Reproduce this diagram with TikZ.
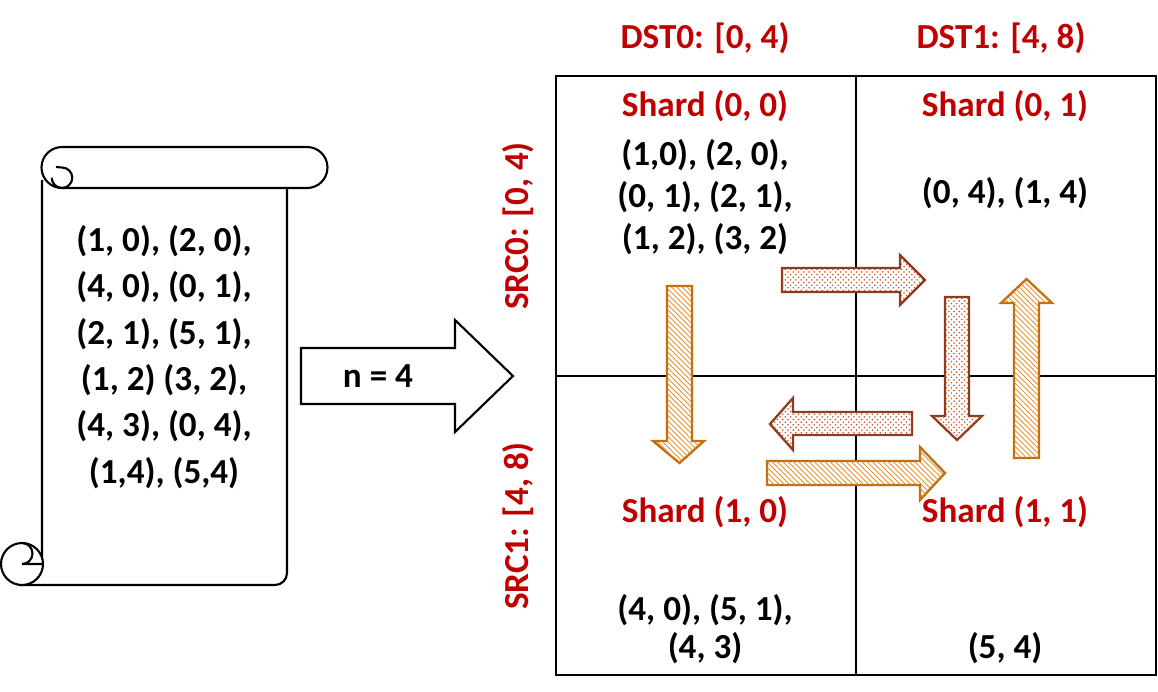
\documentclass[tikz,border=0pt]{standalone}
\usepackage{fontspec}
\setmainfont{Carlito}
\usetikzlibrary{patterns}
\definecolor{darkred}{RGB}{192,0,0}
\definecolor{orline}{RGB}{190,110,10}
\definecolor{orfill}{RGB}{235,130,20}
\definecolor{brline}{RGB}{140,60,30}
\definecolor{brfill}{RGB}{195,85,45}
\tikzset{
  txt/.style={font=\bfseries\fontsize{20}{26}\selectfont, align=center, inner sep=0pt},
  red/.style={txt, text=darkred},
  hatch/.style={draw=orline, line width=1.3pt, postaction={pattern=north west lines, pattern color=orfill}},
  dotty/.style={draw=brline, line width=1.3pt, postaction={pattern=crosshatch dots, pattern color=brfill}},
  line/.style={line width=1.2pt}
}
\begin{document}
\begin{tikzpicture}[x=0.02cm,y=-0.02cm]
\useasboundingbox (0,0) rectangle (1158,691);
% scroll
\draw[line, fill=white] (42,180) -- (42,564) -- (22,585) -- (275,585) arc[start angle=90,end angle=0,radius=12] -- (287,188);
\draw[line, fill=white] (62,147) -- (307,147) arc[start angle=-90,end angle=90,radius=20.5] -- (62,188) arc[start angle=90,end angle=270,radius=20.5];
\draw[line] (62,188) arc[start angle=90,end angle=-90,radius=10.25] -- (56,167);
\draw[line] (62,188) arc[start angle=90,end angle=180,radius=10.25];
\draw[line, fill=white] (22,564) circle[radius=21];
\draw[line] (22,543) arc[start angle=-90,end angle=90,radius=10.5] -- (42,564);
\node[txt, font=\bfseries\fontsize{20}{26.4}\selectfont] (scroll) at (164,357) {(1, 0), (2, 0),\\(4, 0), (0, 1),\\(2, 1), (5, 1),\\(1, 2) (3, 2),\\(4, 3), (0, 4),\\(1,4), (5,4)};
% big arrow
\draw[line] (301,348) -- (455,348) -- (455,320) -- (513,376) -- (455,432) -- (455,404) -- (301,404) -- cycle;
\node[txt] (n) at (378,376) {n = 4};
% grid
\draw[line] (556,76) rectangle (1156,675);
\draw[line] (856,76) -- (856,675);
\draw[line] (556,376) -- (1156,376);
\node[red] (d0) at (705,38) {DST0: [0, 4)};
\node[red] (d1) at (1001,38) {DST1: [4, 8)};
\node[red, rotate=90] (s0) at (518,226) {SRC0: [0, 4)};
\node[red, rotate=90] (s1) at (518,526) {SRC1: [4, 8)};
\node[red] (h00) at (705,106) {Shard (0, 0)};
\node[red] (h01) at (1005,106) {Shard (0, 1)};
\node[red] (h10) at (705,512) {Shard (1, 0)};
\node[red] (h11) at (1005,512) {Shard (1, 1)};
\node[txt, font=\bfseries\fontsize{20}{24}\selectfont] (c00) at (705,197) {(1,0), (2, 0),\\(0, 1), (2, 1),\\(1, 2), (3, 2)};
\node[txt] (c01) at (1005,193) {(0, 4), (1, 4)};
\node[txt, font=\bfseries\fontsize{20}{21.5}\selectfont] (c10) at (705,629) {(4, 0), (5, 1),\\(4, 3)};
\node[txt] (c11) at (1005,648) {(5, 4)};
% block arrows
\draw[hatch, fill=white] (667,286) -- (692,286) -- (692,441) -- (704,441) -- (679.5,463) -- (653,441) -- (667,441) -- cycle;
\draw[dotty, fill=white] (782,268) -- (900,268) -- (900,255) -- (925,280) -- (900,305) -- (900,292) -- (782,292) -- cycle;
\draw[dotty, fill=white] (945,297) -- (969,297) -- (969,416) -- (982,416) -- (957,440) -- (932,416) -- (945,416) -- cycle;
\draw[hatch, fill=white] (1014,458) -- (1039,458) -- (1039,303) -- (1052,303) -- (1026.5,279) -- (1001,303) -- (1014,303) -- cycle;
\draw[dotty, fill=white] (912,412) -- (793,412) -- (793,398) -- (770,424) -- (793,450) -- (793,435) -- (912,435) -- cycle;
\draw[hatch, fill=white] (767,461) -- (920,461) -- (920,447) -- (945,473) -- (920,500) -- (920,485) -- (767,485) -- cycle;
\end{tikzpicture}
\end{document}
